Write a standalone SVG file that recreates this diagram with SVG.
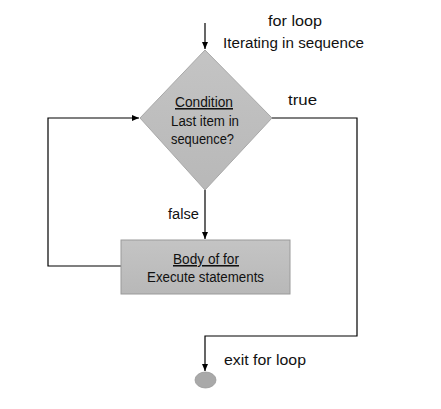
<svg xmlns="http://www.w3.org/2000/svg" width="441" height="409" viewBox="0 0 441 409">
<style>
text{font-family:"Liberation Sans",Arial,sans-serif;font-size:15.5px;fill:#111}
.c{text-anchor:middle}
.ln{fill:none;stroke:#000;stroke-width:1.2}
</style>
<defs>
<marker id="ah" markerWidth="8" markerHeight="8" refX="7" refY="4" orient="auto" markerUnits="userSpaceOnUse">
<path d="M0,1 L7,4 L0,7 Z" fill="#000"/>
</marker>
<linearGradient id="g" x1="0" y1="0" x2="0" y2="1">
<stop offset="0" stop-color="#c4c4c4"/>
<stop offset="1" stop-color="#b8b8b8"/>
</linearGradient>
</defs>
<rect width="441" height="409" fill="#fff"/>
<g id="connectors">
<path class="ln" d="M205,23 V49" marker-end="url(#ah)"/>
<path class="ln" d="M272,118 H357 V336 H205 V371" marker-end="url(#ah)"/>
<path class="ln" d="M205,190 V239" marker-end="url(#ah)"/>
<path class="ln" d="M121,266 H48 V118 H139" marker-end="url(#ah)"/>
</g>
<g id="start-label">
<text x="268" y="26" textLength="54" lengthAdjust="spacingAndGlyphs">for loop</text>
<text x="223" y="48" textLength="141" lengthAdjust="spacingAndGlyphs">Iterating in sequence</text>
</g>
<g id="condition">
<polygon points="205,50 272,118 205,190 140,118" fill="url(#g)" stroke="#a8a8a8" stroke-width="1"/>
<text x="175" y="107" textLength="58" lengthAdjust="spacingAndGlyphs" text-decoration="underline">Condition</text>
<text x="171" y="126" textLength="68" lengthAdjust="spacingAndGlyphs">Last item in</text>
<text x="171" y="144" textLength="63" lengthAdjust="spacingAndGlyphs">sequence?</text>
</g>
<g id="true-label"><text x="288" y="105" textLength="29" lengthAdjust="spacingAndGlyphs">true</text></g>
<g id="false-label"><text x="168" y="219" textLength="31" lengthAdjust="spacingAndGlyphs">false</text></g>
<g id="body">
<rect x="121" y="240" width="169" height="54" fill="url(#g)" stroke="#9a9a9a" stroke-width="1"/>
<text x="173" y="264" textLength="66" lengthAdjust="spacingAndGlyphs" text-decoration="underline">Body of for</text>
<text x="147" y="282" textLength="117" lengthAdjust="spacingAndGlyphs">Execute statements</text>
</g>
<g id="exit-label"><text x="224" y="365" textLength="82" lengthAdjust="spacingAndGlyphs">exit for loop</text></g>
<g id="end">
<ellipse cx="205.5" cy="380" rx="10.5" ry="8" fill="#a9a9a9" stroke="#999" stroke-width="0.8"/>
</g>
</svg>
